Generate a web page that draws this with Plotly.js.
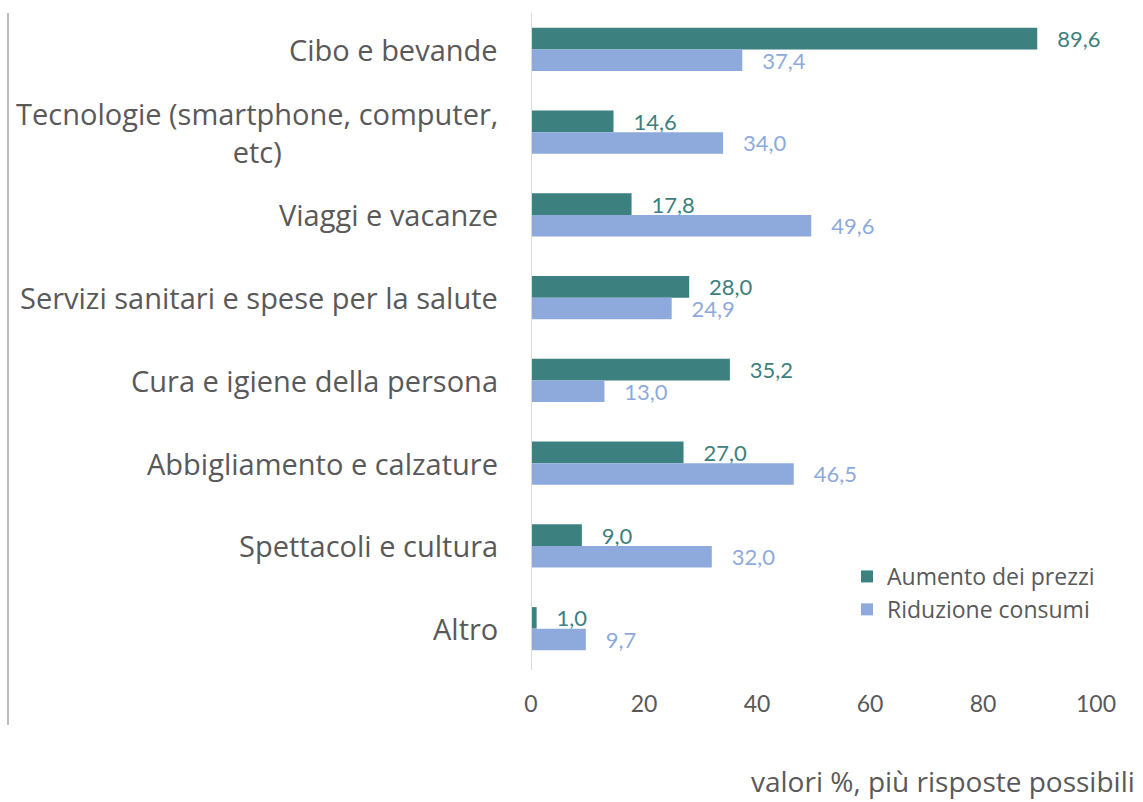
<!DOCTYPE html>
<html>
<head>
<meta charset="utf-8">
<script src="https://cdn.plot.ly/plotly-3.0.1.min.js"></script>
<style>
  html, body { margin: 0; padding: 0; background: #ffffff; }
  #chart { width: 1143px; height: 802px; }
</style>
</head>
<body>
<div id="chart"></div>
<script>
// ---- data ----
const categories = [
  "Cibo e bevande",
  "Tecnologie (smartphone, computer,<br>etc)",
  "Viaggi e vacanze",
  "Servizi sanitari e spese per la salute",
  "Cura e igiene della persona",
  "Abbigliamento e calzature",
  "Spettacoli e cultura",
  "Altro"
];
const aumentoPrezzi = [89.6, 14.6, 17.8, 28.0, 35.2, 27.0, 9.0, 1.0];
const riduzioneConsumi = [37.4, 34.0, 49.6, 24.9, 13.0, 46.5, 32.0, 9.7];
const seriesNames = ["Aumento dei prezzi", "Riduzione consumi"];
const xTicks = [0, 20, 40, 60, 80, 100];
const footnote = "valori %, più risposte possibili";

// ---- styling ----
const FONT = "Lato, 'Open Sans', sans-serif";
const WFONT = "'Open Sans', Lato, sans-serif";
const GREEN = "#3d8080";
const BLUE = "#8eaadc";
const GREY = "#595959";

const fmt = v => "\u00a0\u00a0\u00a0" + v.toFixed(1).replace(".", ",");
const ids = categories.map((c, i) => "c" + i);

const traces = [
  {
    type: "bar", orientation: "h", name: seriesNames[0],
    y: ids, x: aumentoPrezzi,
    marker: { color: GREEN },
    text: aumentoPrezzi.map(fmt), textposition: "outside", constraintext: "none",
    textfont: { family: FONT, size: 22, color: GREEN },
    cliponaxis: false, hoverinfo: "x+name"
  },
  {
    type: "bar", orientation: "h", name: seriesNames[1],
    y: ids, x: riduzioneConsumi,
    marker: { color: BLUE },
    text: riduzioneConsumi.map(fmt), textposition: "outside", constraintext: "none",
    textfont: { family: FONT, size: 22, color: BLUE },
    cliponaxis: false, hoverinfo: "x+name"
  }
];

const L = 531, R = 1096, T = 8, B = 670;
const PW = R - L, PH = B - T;
const px = x => (x - L) / PW;
const py = y => (B - y) / PH;

const annotations = categories.map((c, i) => ({
  text: c, xref: "paper", yref: "y", x: px(500), y: ids[i],
  xanchor: "right", yanchor: "middle", align: "center", showarrow: false,
  font: { family: WFONT, size: 29, color: GREY }
}));
annotations.push({
  text: footnote, xref: "paper", yref: "paper", x: px(1137), y: py(781),
  xanchor: "right", yanchor: "middle", showarrow: false,
  font: { family: WFONT, size: 28, color: GREY }
});

const layout = {
  width: 1143, height: 802,
  margin: { l: L, r: 1143 - R, t: T, b: 802 - B, pad: 0 },
  paper_bgcolor: "#ffffff", plot_bgcolor: "#ffffff",
  barmode: "group", bargap: 0.48, bargroupgap: 0,
  separators: ",.",
  font: { family: FONT, color: GREY },
  xaxis: {
    range: [0, 100], tickvals: xTicks, showgrid: false, zeroline: false,
    showline: false, ticks: "", ticklabelstandoff: 18,
    tickfont: { family: FONT, size: 23, color: GREY }, fixedrange: true
  },
  yaxis: {
    type: "category", categoryorder: "array", categoryarray: ids,
    autorange: "reversed", showticklabels: false, showgrid: false,
    zeroline: false, showline: false, ticks: "", fixedrange: true
  },
  legend: {
    x: px(847), y: py(555), xanchor: "left", yanchor: "top",
    font: { family: WFONT, size: 23, color: GREY },
    bgcolor: "rgba(0,0,0,0)", traceorder: "normal"
  },
  showlegend: true,
  annotations: annotations,
  shapes: [
    { type: "line", xref: "x", yref: "paper", x0: 0, x1: 0, y0: 0, y1: py(13),
      line: { color: "#d9d9d9", width: 2 }, layer: "above" },
    { type: "line", xref: "paper", yref: "paper", x0: px(8), x1: px(8), y0: py(725), y1: py(13),
      line: { color: "#bfbfbf", width: 2 } }
  ]
};

Plotly.newPlot("chart", traces, layout, { displayModeBar: false, staticPlot: true });
</script>
</body>
</html>
